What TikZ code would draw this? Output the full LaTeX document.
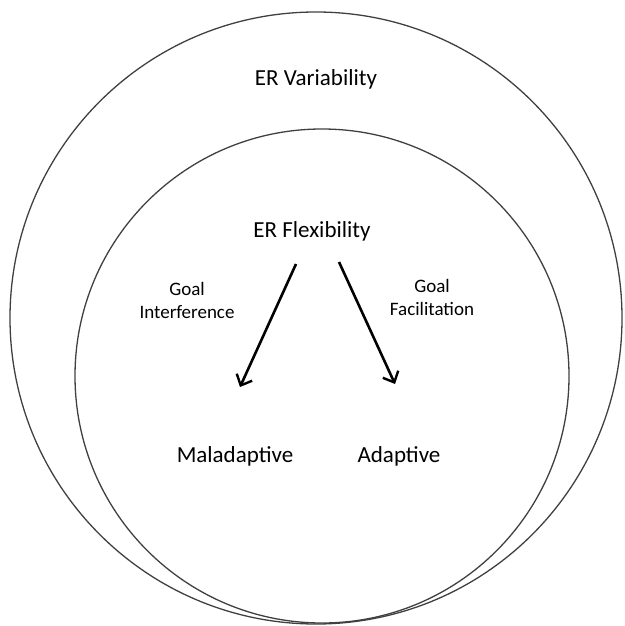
\documentclass[tikz,border=0pt]{standalone}
\usepackage{fontspec}
\setmainfont{Carlito}
\usetikzlibrary{arrows.meta}
\tikzset{
  ring/.style={draw=black!75, line width=1.3pt},
  bigtxt/.style={font=\fontsize{23}{27}\selectfont, inner sep=0pt},
  smalltxt/.style={font=\fontsize{19}{23}\selectfont, align=center, inner sep=0pt},
  flow/.style={line width=2.6pt, -{Straight Barb[length=9pt, width=17pt, line width=2.4pt]}}
}
\begin{document}
\begin{tikzpicture}[x=1pt, y=-1pt]
  \useasboundingbox (0,0) rectangle (624,626);

  \draw[ring] (316,318) circle[radius=306pt];
  \draw[ring] (322,376) circle[radius=247pt];

  \node[bigtxt, anchor=base] (variab) at (316,85) {ER Variability};
  \node[bigtxt, anchor=base] (flexib) at (312,237) {ER Flexibility};
  \node[bigtxt, anchor=base] (maladapt) at (235,462) {Maladaptive};
  \node[bigtxt, anchor=base] (adapt) at (399,462) {Adaptive};

  \node[smalltxt] (interf) at (187,300) {Goal\\Interference};
  \node[smalltxt] (facil) at (432,297) {Goal\\Facilitation};

  \coordinate (lstart) at (296,264);
  \coordinate (lend) at (240,387);
  \coordinate (rstart) at (339,262);
  \coordinate (rend) at (395,384);
  \draw[flow] (lstart) -- (lend);
  \draw[flow] (rstart) -- (rend);
\end{tikzpicture}
\end{document}
